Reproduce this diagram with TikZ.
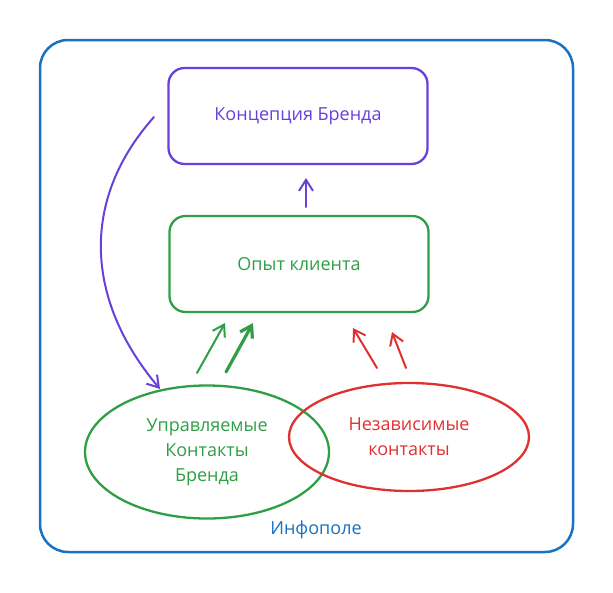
\documentclass[tikz,border=0pt]{standalone}
\usepackage{fontspec}
\setmainfont{Open Sans}
\usetikzlibrary{arrows.meta,shapes.geometric}
\definecolor{violetx}{HTML}{6741D9}
\definecolor{greenx}{HTML}{2F9E44}
\definecolor{redx}{HTML}{E03131}
\definecolor{bluex}{HTML}{1971C2}
\tikzset{
  box/.style={draw, line width=2.3pt, rounded corners=16pt, minimum width=259pt, minimum height=96pt, font=\fontsize{18}{22}\selectfont},
  oval/.style={draw, ellipse, line width=2.3pt, font=\fontsize{18}{25}\selectfont, align=center},
  barb/.style={-{Straight Barb[length=11pt,width=14pt]}, line width=2pt, line cap=round}
}

\begin{document}
\begin{tikzpicture}[x=1pt,y=-1pt]
		%%%%% START %%%%%
		\useasboundingbox (0,0) rectangle (613,592);
		
		\draw[line width=2.5pt, color=bluex, rounded corners=28pt] (40,40) rectangle (573,552);
		
		\node[box, color=violetx] (concept) at (298,116) {Концепция Бренда};
		\node[box, color=greenx] (experience) at (299,264) {Опыт клиента};
		
		\node[oval, color=greenx, minimum width=244pt, minimum height=133pt] (managed) at (207,452) {Управляемые\\Контакты\\Бренда};
		\node[oval, color=redx, minimum width=240pt, minimum height=108pt] (independent) at (409,437) {Независимые\\контакты};
		
		\node[color=bluex, font=\fontsize{18}{22}\selectfont] (field) at (316,530) {Инфополе};
		
		\coordinate (up1) at (306,207);
		\coordinate (up2) at (306,178);
		\draw[barb, color=violetx] (up1) -- (up2);
		
		\coordinate (curve1) at (154,117);
		\coordinate (curve2) at (160,389);
		\draw[barb, color=violetx] (curve1) .. controls (80,200) and (85,300) .. (curve2);
		
		\coordinate (g1a) at (197,373);
		\coordinate (g1b) at (225,323);
		\coordinate (g2a) at (226,372);
		\coordinate (g2b) at (253,323);
		\draw[barb, color=greenx] (g1a) -- (g1b);
		\draw[barb, color=greenx, line width=3.2pt] (g2a) -- (g2b);
		
		\coordinate (r1a) at (377,368);
		\coordinate (r1b) at (353,328);
		\coordinate (r2a) at (406,368);
		\coordinate (r2b) at (392,332);
		\draw[barb, color=redx] (r1a) -- (r1b);
		\draw[barb, color=redx] (r2a) -- (r2b);
		
		%%%%% END %%%%%
\end{tikzpicture}
\end{document}
